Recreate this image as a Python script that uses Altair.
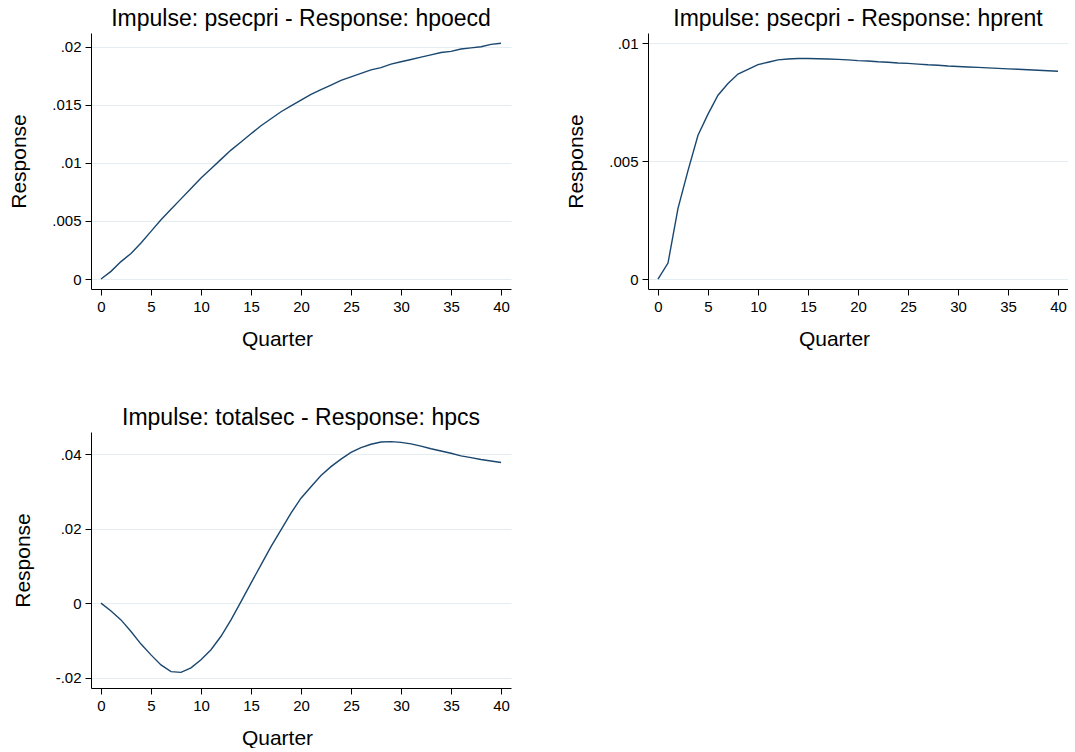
import altair as alt
import pandas as pd

quarters = list(range(41))

hpoecd = [0.0, 0.00066, 0.0015, 0.0022, 0.0031, 0.0041, 0.0051, 0.0060, 0.0069, 0.0078,
          0.0087, 0.0095, 0.0103, 0.0111, 0.0118, 0.0125, 0.0132, 0.0138, 0.0144, 0.0149,
          0.0154, 0.0159, 0.0163, 0.0167, 0.0171, 0.0174, 0.0177, 0.0180, 0.0182, 0.0185,
          0.0187, 0.0189, 0.0191, 0.0193, 0.0195, 0.0196, 0.0198, 0.0199, 0.0200, 0.0202,
          0.0203]

hprent = [0.0, 0.00068, 0.0030, 0.0046, 0.0061, 0.0070, 0.0078, 0.0083, 0.0087, 0.0089,
          0.0091, 0.0092, 0.00930, 0.00934, 0.00936, 0.00936, 0.00935, 0.00934, 0.00932, 0.00930,
          0.00927, 0.00925, 0.00922, 0.00920, 0.00917, 0.00915, 0.00912, 0.00909, 0.00907, 0.00904,
          0.00902, 0.00900, 0.00898, 0.00896, 0.00894, 0.00892, 0.00890, 0.00888, 0.00886, 0.00884,
          0.00882]

hpcs = [0.0, -0.0021, -0.0045, -0.0076, -0.0110, -0.0139, -0.0166, -0.0184, -0.0186, -0.0174,
        -0.0152, -0.0125, -0.0089, -0.0045, 0.0004, 0.0054, 0.0103, 0.0152, 0.0197, 0.0242,
        0.0282, 0.0313, 0.0343, 0.0367, 0.0387, 0.0405, 0.0418, 0.0427, 0.0433, 0.0434,
        0.0432, 0.0428, 0.0422, 0.0415, 0.0409, 0.0403, 0.0396, 0.0391, 0.0386, 0.0382,
        0.0378]

titles = ["Impulse: psecpri - Response: hpoecd",
          "Impulse: psecpri - Response: hprent",
          "Impulse: totalsec - Response: hpcs"]

y_ticks = [[0, 0.005, 0.01, 0.015, 0.02],
           [0, 0.005, 0.01],
           [-0.02, 0, 0.02, 0.04]]
y_domains = [[-0.00086, 0.02118], [-0.00042, 0.01044], [-0.0228, 0.0460]]
x_ticks = [0, 5, 10, 15, 20, 25, 30, 35, 40]

FONT = "Liberation Sans"
LINE = "#1a476f"
W, H = 420, 256

label_expr = ("datum.value == 0 ? '0' : (datum.value < 0 ? '-' : '') + "
              "substring(format(abs(datum.value), '~g'), 1)")


def panel(values, title, yt, yd):
    df = pd.DataFrame({"Quarter": quarters, "Response": values})
    return alt.Chart(df).mark_line(color=LINE, strokeWidth=1.4).encode(
        x=alt.X("Quarter:Q",
                scale=alt.Scale(domain=[-1.0, 41.0], nice=False, zero=False),
                axis=alt.Axis(values=x_ticks, grid=False, title="Quarter",
                              titleX=186, titleAlign="center",
                              labelPadding=4, titlePadding=14)),
        y=alt.Y("Response:Q",
                scale=alt.Scale(domain=yd, nice=False, zero=False),
                axis=alt.Axis(values=yt, grid=True, title="Response",
                              labelExpr=label_expr, labelPadding=4,
                              titlePadding=22)),
    ).properties(
        width=W, height=H,
        title=alt.TitleParams(title, fontSize=23, font=FONT, fontWeight="normal",
                              color="black", anchor="middle", offset=2),
    )


p1 = panel(hpoecd, titles[0], y_ticks[0], y_domains[0])
p2 = panel(hprent, titles[1], y_ticks[1], y_domains[1])
p3 = panel(hpcs, titles[2], y_ticks[2], y_domains[2])

chart = alt.vconcat(
    alt.hconcat(p1, p2, spacing=54),
    p3,
    spacing=58,
).properties(
    padding={"left": 8, "top": 8, "right": 0, "bottom": 0},
    background="white",
).configure_view(
    stroke=None
).configure_axis(
    domainColor="black", tickColor="black", labelColor="black", titleColor="black",
    labelFont=FONT, titleFont=FONT, labelFontSize=15, titleFontSize=21,
    titleFontWeight="normal", tickSize=6, domainWidth=1, tickWidth=1,
    gridColor="#e4edf0", gridWidth=1,
)

chart.save("out.html", embed_options={"renderer": "svg", "actions": False})
